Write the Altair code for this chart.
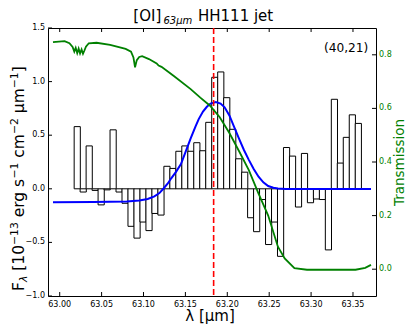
import altair as alt
import pandas as pd

# ---------------- data ----------------
bin_lam = [63.02093, 63.02807, 63.03520, 63.04234, 63.04948, 63.05662, 63.06375, 63.07089,
           63.07803, 63.08516, 63.09230, 63.09944, 63.10658, 63.11371, 63.12085, 63.12799,
           63.13512, 63.14226, 63.14940, 63.15654, 63.16367, 63.17081, 63.17795, 63.18508,
           63.19222, 63.19936, 63.20650, 63.21363, 63.22077, 63.22791, 63.23504, 63.24218,
           63.24932, 63.25646, 63.26359, 63.27073, 63.27787, 63.28500, 63.29214, 63.29928,
           63.30642, 63.31355, 63.32069, 63.32783, 63.33496, 63.34210, 63.34924, 63.35638]
bin_flux = [0.58, -0.03, 0.40, -0.015, -0.15, -0.01, 0.55, -0.03, -0.135, -0.35, -0.46, -0.31,
            -0.39, -0.23, -0.245, 0.21, 0.19, 0.35, 0.40, 0.35, 0.43, 0.355, 0.62, 1.04,
            1.09, 0.85, 0.555, 0.28, 0.155, -0.27, -0.40, -0.10, -0.52, -0.31, -0.63, 0.385,
            0.305, -0.17, 0.33, -0.13, -0.095, -0.10, -0.57, 0.835, 0.24, 0.48, 0.69, 0.61]

fit_lam = [62.992, 63.040, 63.080, 63.095, 63.105, 63.113, 63.119, 63.1242, 63.1290, 63.1331,
           63.139, 63.1447, 63.150, 63.1563, 63.1620, 63.1659, 63.1710, 63.1756, 63.1800,
           63.1863, 63.1920, 63.1968, 63.2025, 63.2080, 63.2141, 63.2200, 63.2257, 63.2315,
           63.2373, 63.2430, 63.2488, 63.2550, 63.2604, 63.2700, 63.3715]
fit_flux = [-0.126, -0.124, -0.118, -0.110, -0.095, -0.07, -0.04, 0.005, 0.05, 0.098,
            0.16, 0.23, 0.34, 0.47, 0.58, 0.65, 0.72, 0.765, 0.795,
            0.81, 0.795, 0.76, 0.685, 0.58, 0.465, 0.36, 0.27, 0.185,
            0.113, 0.06, 0.026, 0.01, 0.002, -0.002, -0.003]

trans_lam = [62.992, 63.0058, 63.0116, 63.0154, 63.0174, 63.0191, 63.0209, 63.0226, 63.0243,
             63.0261, 63.0278, 63.0295, 63.0313, 63.0347, 63.044, 63.0602, 63.0787, 63.0851,
             63.088, 63.0899, 63.092, 63.0949, 63.0984, 63.1065, 63.1157, 63.118, 63.1215,
             63.1366, 63.1563, 63.1678, 63.1794, 63.191, 63.2025, 63.2141, 63.2257, 63.2373,
             63.2488, 63.2604, 63.2685, 63.2801, 63.2951, 63.353, 63.3646, 63.3715]
trans_val = [0.847, 0.851, 0.843, 0.829, 0.812, 0.826, 0.806, 0.823, 0.805, 0.82, 0.804, 0.816,
             0.83, 0.843, 0.845, 0.837, 0.822, 0.812,
             0.79, 0.753, 0.78, 0.792, 0.795, 0.784, 0.768, 0.76, 0.755,
             0.72, 0.672, 0.64, 0.61, 0.567, 0.508, 0.44, 0.37, 0.282,
             0.2, 0.084, 0.04, 0.004, -0.002, -0.002, 0.005, 0.016]

line_center = [63.1837]

x_ticks = [63.00, 63.05, 63.10, 63.15, 63.20, 63.25, 63.30, 63.35]
y_ticks = [-1.0, -0.5, 0.0, 0.5, 1.0, 1.5]
t_ticks = [0.0, 0.2, 0.4, 0.6, 0.8]

title_main = "[OI]"
title_sub = "63μm"
title_rest = "HH111 jet"
pos_label = "(40,21)"
xlabel = "λ [μm]"
tlabel = "Transmission"
# y label pieces: (text, kind)  kind: n = normal, b = subscript, p = superscript
ylabel_parts = [("F", "n"), ("λ", "b"), (" [10", "n"), ("−13", "p"), (" erg s", "n"),
                ("−1", "p"), (" cm", "n"), ("−2", "p"), (" μm", "n"), ("−1", "p"), ("]", "n")]

# ---------------- chart ----------------
W, H = 328, 268
FONT = "DejaVu Sans"
GREEN = "#008000"
BIG = 15.5
SMALL = 10.8

xs = alt.Scale(domain=[62.992, 63.3715], nice=False, zero=False)
ys = alt.Scale(domain=[-1.0, 1.5], nice=False, zero=False)
ts = alt.Scale(domain=[-0.1, 0.9], nice=False, zero=False)

df_bins = pd.DataFrame({"lam": bin_lam, "flux": bin_flux})
df_fit = pd.DataFrame({"lam": fit_lam, "flux": fit_flux})
df_tr = pd.DataFrame({"lam": trans_lam, "t": trans_val})
df_line = pd.DataFrame({"lam": line_center})
df_xt = pd.DataFrame({"lam": x_ticks})
df_yt = pd.DataFrame({"v": y_ticks})
df_tt = pd.DataFrame({"t": t_ticks})

bars = alt.Chart(df_bins).mark_bar(size=6.17, fill="white", stroke="black", strokeWidth=1).encode(
    x=alt.X("lam:Q", scale=xs, axis=None),
    y=alt.Y("flux:Q", scale=ys, axis=None),
    y2=alt.datum(0),
)

fit = alt.Chart(df_fit).mark_line(color="#0000ff", strokeWidth=2).encode(
    x=alt.X("lam:Q", scale=xs, axis=None),
    y=alt.Y("flux:Q", scale=ys, axis=None),
)

center = alt.Chart(df_line).mark_rule(color="#ff0000", strokeWidth=1.6, strokeDash=[6, 3]).encode(
    x=alt.X("lam:Q", scale=xs, axis=None),
)

tick_style = dict(color="black", strokeWidth=1)
xt_bot = alt.Chart(df_xt).mark_rule(**tick_style).encode(
    x=alt.X("lam:Q", scale=xs, axis=None), y=alt.value(H), y2=alt.value(H - 4))
xt_top = alt.Chart(df_xt).mark_rule(**tick_style).encode(
    x=alt.X("lam:Q", scale=xs, axis=None), y=alt.value(0), y2=alt.value(4))
yt_left = alt.Chart(df_yt).mark_rule(**tick_style).encode(
    y=alt.Y("v:Q", scale=ys, axis=None), x=alt.value(0), x2=alt.value(4))

lab_style = dict(font=FONT, fontSize=8)
xlab = alt.Chart(df_xt).mark_text(align="center", baseline="alphabetic", color="black", **lab_style).encode(
    x=alt.X("lam:Q", scale=xs, axis=None), y=alt.value(H + 10.5), text=alt.Text("lam:Q", format=".2f"))
ylab = alt.Chart(df_yt).mark_text(align="right", baseline="middle", color="black", **lab_style).encode(
    y=alt.Y("v:Q", scale=ys, axis=None), x=alt.value(-3), text=alt.Text("v:Q", format=".1f"))


def txt(s, x, y, size, color="black", align="left", angle=0, style="normal"):
    return alt.Chart(pd.DataFrame({"s": [s]})).mark_text(
        font=FONT, fontSize=size, color=color, align=align, baseline="alphabetic",
        angle=angle, fontStyle=style,
    ).encode(x=alt.value(x), y=alt.value(y), text="s:N")


# approximate DejaVu Sans advance widths (em) used only to lay out the rotated label pieces
ADV = {"F": 0.575, "λ": 0.592, " ": 0.318, "[": 0.39, "]": 0.39, "1": 0.636, "0": 0.636,
       "3": 0.636, "2": 0.636, "−": 0.838, "e": 0.615, "r": 0.411, "g": 0.635, "s": 0.521,
       "c": 0.55, "m": 0.974, "μ": 0.636}

ylabel_layers = []
cursor = 263.0
BASE_X = -24.3
for s, kind in ylabel_parts:
    size = BIG if kind == "n" else SMALL
    dx = {"n": 0.0, "b": 3.0, "p": -5.8}[kind]
    stripped = s.lstrip(" ")
    cursor -= (len(s) - len(stripped)) * ADV[" "] * size
    ylabel_layers.append(txt(stripped, BASE_X + dx, cursor, size, angle=270,
                             style="italic" if kind == "b" else "normal"))
    cursor -= sum(ADV.get(ch, 0.6) for ch in stripped) * size

texts = [
    txt(title_main, 85.3, -7, 15),
    txt(title_sub, 115.5, -4.5, 10, style="italic"),
    txt(title_rest, 150, -7, 15),
    txt(pos_label, 320.3, 24, 12.2, align="right"),
    txt(xlabel, 162, 293, 15, align="center"),
    txt(tlabel, 356, 134.5, 13.5, color=GREEN, align="center", angle=270),
] + ylabel_layers

left = alt.layer(bars, fit, center, xt_bot, xt_top, yt_left, xlab, ylab, *texts)

trans = alt.Chart(df_tr).mark_line(color=GREEN, strokeWidth=1.8).encode(
    x=alt.X("lam:Q", scale=xs, axis=None),
    y=alt.Y("t:Q", scale=ts, axis=None),
)
tt_right = alt.Chart(df_tt).mark_rule(**tick_style).encode(
    y=alt.Y("t:Q", scale=ts, axis=None), x=alt.value(W - 4), x2=alt.value(W))
tlab = alt.Chart(df_tt).mark_text(align="left", baseline="middle", color=GREEN, **lab_style).encode(
    y=alt.Y("t:Q", scale=ts, axis=None), x=alt.value(W + 3), text=alt.Text("t:Q", format=".1f"))

right = alt.layer(trans, tt_right, tlab)

chart = alt.layer(left, right).resolve_scale(y="independent").properties(
    width=W, height=H,
    autosize=alt.AutoSizeParams(type="none"),
    padding={"left": 40, "top": 20, "right": 31, "bottom": 28},
    background="white",
).configure_view(stroke="black", strokeWidth=1)

chart.save("out.html", embed_options={"renderer": "svg", "actions": False})
